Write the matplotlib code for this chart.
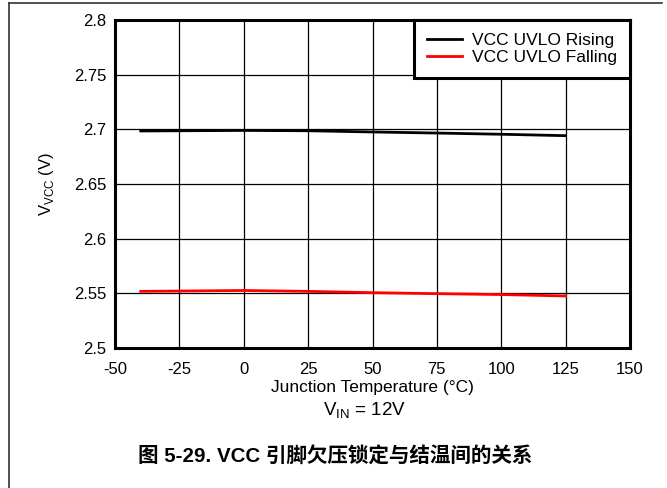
import matplotlib
matplotlib.use("Agg")
import matplotlib.pyplot as plt
from matplotlib.lines import Line2D

plt.rcParams['font.family'] = ['Liberation Sans', 'Noto Sans CJK SC', 'DejaVu Sans']

temps = [-40, 0, 25, 50, 75, 100, 125]
rising = [2.6985, 2.699, 2.6987, 2.6976, 2.6966, 2.6955, 2.6942]
falling = [2.5518, 2.5526, 2.5518, 2.5506, 2.5497, 2.5489, 2.5476]
xticks = [-50, -25, 0, 25, 50, 75, 100, 125, 150]
yticks = [2.5, 2.55, 2.6, 2.65, 2.7, 2.75, 2.8]
ytick_labels = ['2.5', '2.55', '2.6', '2.65', '2.7', '2.75', '2.8']

W, H = 667, 488
fig = plt.figure(figsize=(W / 100, H / 100), dpi=100)
ax = fig.add_axes([115 / W, 1 - 348 / H, (630 - 115) / W, (348 - 20) / H])

ax.plot(temps, rising, color='black', lw=2, label='VCC UVLO Rising', zorder=3)
ax.plot(temps, falling, color='#ff0000', lw=2, label='VCC UVLO Falling', zorder=3)

ax.set_xlim(-50, 150)
ax.set_ylim(2.5, 2.8)
ax.set_xticks(xticks)
ax.set_xticklabels([str(t) for t in xticks])
ax.set_yticks(yticks)
ax.set_yticklabels(ytick_labels)
ax.grid(True, color='black', lw=0.9)
ax.tick_params(axis='x', length=0, labelsize=12, pad=10)
ax.tick_params(axis='y', length=0, labelsize=12, pad=6)
for s in ax.spines.values():
    s.set_linewidth(2.2)
    s.set_color('black')

ax.set_xlabel('Junction Temperature (°C)', fontsize=12.5, labelpad=2)
ax.set_ylabel('V$_{\\mathregular{VCC}}$ (V)', fontsize=12, labelpad=13)

leg = ax.legend(loc='upper right', fontsize=12.5, fancybox=False, framealpha=1,
                edgecolor='black', borderaxespad=0, handlelength=2.0,
                borderpad=0.75, labelspacing=0.12, handletextpad=0.6)
leg.get_frame().set_linewidth(2.2)

fig.text(365 / W, 1 - 411 / H, 'V$_{\\mathregular{IN}}$ = 12V', fontsize=13.5,
         ha='center', va='center')
fig.text(335 / W, 1 - 457 / H, '图 5-29. VCC 引脚欠压锁定与结温间的关系',
         fontsize=14.8, fontweight='bold', ha='center', va='center')

# outer frame (top and left)
fig.add_artist(Line2D([8.5 / W, 662 / W], [1 - 2.5 / H, 1 - 2.5 / H],
                      color='#333333', lw=1.2, transform=fig.transFigure))
fig.add_artist(Line2D([8.5 / W, 8.5 / W], [1 - 2.5 / H, 0],
                      color='#333333', lw=1.2, transform=fig.transFigure))

fig.savefig('out.png', dpi=100)
